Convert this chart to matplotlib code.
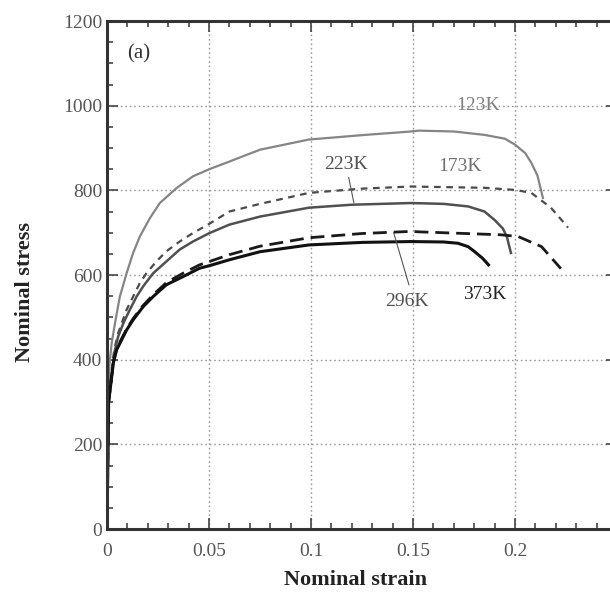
import matplotlib
matplotlib.use('Agg')
import matplotlib.pyplot as plt
from matplotlib.ticker import MultipleLocator

plt.rcParams['font.family'] = ['Liberation Serif', 'DejaVu Serif']

# tensile curves (strain, stress)
strain_123 = [0, 0.0006, 0.0011, 0.0023, 0.0039, 0.0063, 0.0096, 0.0128, 0.0161, 0.021,
              0.0259, 0.034, 0.0421, 0.0502, 0.060, 0.075, 0.099, 0.1267, 0.149, 0.1527,
              0.170, 0.185, 0.195, 0.200, 0.205, 0.208, 0.211, 0.2137]
stress_123 = [0, 260, 384, 439, 486, 549, 604, 652, 691, 734,
              770, 805, 833, 850, 868, 896, 920, 931, 939, 941,
              939, 931, 922, 908, 888, 865, 835, 782]

strain_173 = [0, 0.0008, 0.0028, 0.0039, 0.0055, 0.0072, 0.0096, 0.0128, 0.0161, 0.0193,
              0.0242, 0.0291, 0.0356, 0.0421, 0.0502, 0.060, 0.075, 0.099, 0.125, 0.149,
              0.185, 0.200, 0.208, 0.2176, 0.226]
stress_173 = [0, 300, 400, 431, 463, 486, 518, 549, 581, 604,
              632, 656, 679, 699, 721, 750, 768, 794, 804, 809,
              806, 801, 794, 759, 712]

strain_223 = [0, 0.0008, 0.0039, 0.0055, 0.008, 0.0112, 0.0145, 0.0177, 0.0226, 0.0291,
              0.0356, 0.0421, 0.0502, 0.060, 0.075, 0.099, 0.12, 0.149, 0.165, 0.177,
              0.185, 0.19, 0.194, 0.196, 0.198]
stress_223 = [0, 300, 423, 455, 486, 518, 549, 573, 604, 632,
              660, 679, 699, 719, 738, 759, 766, 770, 768, 762,
              750, 730, 710, 691, 652]

strain_296 = [0, 0.0008, 0.0031, 0.0047, 0.0072, 0.0096, 0.0128, 0.0177, 0.0226, 0.0291,
              0.0372, 0.0454, 0.060, 0.075, 0.099, 0.125, 0.149, 0.1527, 0.193, 0.2015,
              0.213, 0.2225]
stress_296 = [0, 300, 395, 425, 450, 472, 497, 528, 553, 582,
              604, 624, 648, 668, 688, 698, 703, 702, 695, 691,
              667, 615]

strain_373 = [0, 0.0008, 0.0031, 0.0047, 0.0072, 0.0096, 0.0128, 0.0177, 0.0226, 0.0291,
              0.0372, 0.0454, 0.0502, 0.060, 0.075, 0.099, 0.125, 0.149, 0.165, 0.172,
              0.177, 0.180, 0.184, 0.187]
stress_373 = [0, 300, 392, 423, 447, 470, 494, 525, 549, 577,
              596, 616, 622, 636, 655, 671, 677, 679, 678, 675,
              667, 656, 640, 624]

x_ticks = [0, 0.05, 0.1, 0.15, 0.2]
x_ticklabels = ['0', '0.05', '0.1', '0.15', '0.2']
y_ticks = [0, 200, 400, 600, 800, 1000, 1200]

fig = plt.figure(figsize=(6.10, 5.99), dpi=100)
ax = fig.add_axes([107/610, 70/599, 510/610, 508/599])

ax.plot(strain_123, stress_123, color='#858585', lw=1.6, solid_joinstyle='round')
ax.plot(strain_173, stress_173, color='#4a4a4a', lw=1.6, linestyle=(0, (3, 2.5)))
ax.plot(strain_223, stress_223, color='#505050', lw=1.8, solid_joinstyle='round')
ax.plot(strain_296, stress_296, color='#1a1a1a', lw=2.0, linestyle=(0, (5, 2.5)))
ax.plot(strain_373, stress_373, color='#111111', lw=2.2, solid_joinstyle='round')

# leader lines for labels
ax.plot([0.1185, 0.121], [830, 771], color='#555555', lw=0.8)
ax.plot([0.1405, 0.148], [700, 577], color='#555555', lw=0.8)

ax.text(0.182, 1000, '123K', color='#808080', fontsize=14, ha='center', va='center')
ax.text(0.173, 856, '173K', color='#707070', fontsize=14, ha='center', va='center')
ax.text(0.117, 860, '223K', color='#505050', fontsize=14, ha='center', va='center')
ax.text(0.147, 537, '296K', color='#505050', fontsize=14, ha='center', va='center')
ax.text(0.1854, 553, '373K', color='#222222', fontsize=14, ha='center', va='center')
ax.text(0.0156, 1123, '(a)', color='#333333', fontsize=15, ha='center', va='center')

ax.set_xlim(0, 0.25)
ax.set_ylim(0, 1200)
ax.set_xticks(x_ticks)
ax.set_xticklabels(x_ticklabels)
ax.set_yticks(y_ticks)
ax.xaxis.set_minor_locator(MultipleLocator(0.01))
ax.yaxis.set_minor_locator(MultipleLocator(50))
ax.tick_params(which='both', direction='in', top=True, right=True, colors='#444444',
               labelcolor='#555555', labelsize=14, width=1.2)
ax.tick_params(which='major', length=8)
ax.tick_params(which='minor', length=4)
ax.tick_params(axis='x', pad=10)
ax.grid(True, which='major', color='#999999', linestyle=(0, (1.2, 2)), lw=1.0)
for spine in ax.spines.values():
    spine.set_linewidth(2.2)
    spine.set_color('#333333')

fig.text(355/610, 1 - 580/599, 'Nominal strain', fontsize=16, fontweight='bold',
         ha='center', va='center', color='#222222')
fig.text(25/610, 1 - 292/599, 'Nominal stress', fontsize=16, fontweight='bold',
         ha='center', va='center', rotation=90, color='#222222')

fig.savefig('out.png', dpi=100)
